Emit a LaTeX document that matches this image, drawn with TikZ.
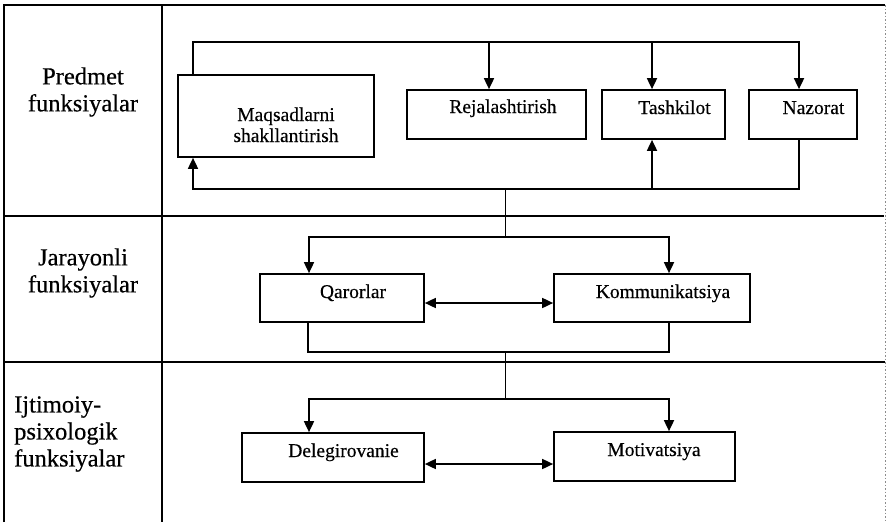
\documentclass[tikz,border=0pt]{standalone}
\usepackage{fontspec}
\setmainfont{Liberation Serif}
\newfontfamily\heavyserif[FakeBold=0.4]{Liberation Serif}
\usetikzlibrary{arrows.meta,calc}
\begin{document}
\begin{tikzpicture}[x=1pt,y=-1pt,
  frame/.style={line width=1.6pt},
  faint/.style={line width=0.6pt,draw=black!45,dash pattern=on 1.5pt off 2pt},
  box/.style={draw,line width=1.7pt,rectangle,inner sep=0pt},
  ln/.style={line width=1.7pt},
  thinln/.style={line width=1pt},
  arr/.style={line width=1.7pt,-{Triangle[length=11pt,width=10pt]}},
  darr/.style={line width=1.7pt,{Triangle[length=11pt,width=10pt]}-{Triangle[length=11pt,width=10pt]}},
  btxt/.style={anchor=base,inner sep=0pt,font=\heavyserif\fontsize{19.5}{21}\selectfont},
  ltxt/.style={inner sep=0pt,font=\heavyserif\fontsize{24.5}{27}\selectfont}]
\useasboundingbox (0,0) rectangle (888,522);
\fill[white] (0,0) rectangle (888,522);
% frame
\coordinate (fTL) at (4,5);
\coordinate (fTR) at (885,5);
\coordinate (fBL) at (4,522);
\coordinate (cT) at (162,5);
\coordinate (cB) at (162,522);
\coordinate (r1L) at (4,216);
\coordinate (r1R) at (884,216);
\coordinate (r2L) at (4,362);
\coordinate (r2R) at (885,362);
\draw[frame] (fBL) -- (fTL) -- (fTR);
\draw[frame] (cT) -- (cB);
\draw[frame] (r1L) -- (r1R);
\draw[frame] (r2L) -- (r2R);
\draw[faint] (fTR) -- (885,522);
% row labels
\node[ltxt,align=center] (lab1) at (83,92) {Predmet\\funksiyalar};
\node[ltxt,align=center] (lab2) at (83,273) {Jarayonli\\funksiyalar};
\node[ltxt,align=left,anchor=west] (lab3) at (14,434) {Ijtimoiy-\\psixologik\\funksiyalar};
% boxes row 1
\node[box,minimum width=196pt,minimum height=82pt] (maq) at (276,116) {};
\node[box,minimum width=179pt,minimum height=49pt] (rej) at (496.5,114.5) {};
\node[box,minimum width=123pt,minimum height=49pt] (tas) at (663.5,114.5) {};
\node[box,minimum width=108pt,minimum height=49pt] (naz) at (803,114.5) {};
\node[btxt] (maqt1) at (286,121) {Maqsadlarni};
\node[btxt] (maqt2) at (286,142) {shakllantirish};
\node[btxt] (rejt) at (503,113) {Rejalashtirish};
\node[btxt] (tast) at (674.5,114) {Tashkilot};
\node[btxt] (nazt) at (813.5,114) {Nazorat};
% boxes row 2
\node[box,minimum width=164pt,minimum height=48pt] (qar) at (342,298) {};
\node[box,minimum width=196pt,minimum height=48pt] (kom) at (652,298) {};
\node[btxt] (qart) at (353,298) {Qarorlar};
\node[btxt] (komt) at (663,298) {Kommunikatsiya};
% boxes row 3
\node[box,minimum width=182pt,minimum height=49pt] (del) at (333,457.5) {};
\node[box,minimum width=181pt,minimum height=49pt] (mot) at (644.5,456.5) {};
\node[btxt] (delt) at (343.5,457) {Delegirovanie};
\node[btxt] (mott) at (654,456) {Motivatsiya};
% row 1 connectors
\coordinate (t0) at (193,42);
\coordinate (t1) at (489,42);
\coordinate (t2) at (652,42);
\coordinate (t3) at (799,42);
\coordinate (b0) at (193,189);
\coordinate (b2) at (652,189);
\coordinate (b3) at (799,189);
\coordinate (bm) at (505,189);
\draw[arr] (t0 |- maq.north) -- (t0) -- (t3) -- (t3 |- naz.north);
\draw[arr] (t1) -- (t1 |- rej.north);
\draw[arr] (t2) -- (t2 |- tas.north);
\draw[arr] (b3 |- naz.south) -- (b3) -- (b0) -- (b0 |- maq.south);
\draw[arr] (b2) -- (b2 |- tas.south);
% row 2 connectors
\coordinate (q0) at (309,237);
\coordinate (q1) at (669,237);
\coordinate (qm) at (505,237);
\draw[thinln] (bm) -- (qm);
\draw[darr] (q0 |- qar.north) -- (q0) -- (q1) -- (q1 |- kom.north);
\draw[darr] ([yshift=-5pt]qar.east) -- ([yshift=-5pt]qar.east -| kom.west);
\coordinate (s0) at (308,352);
\coordinate (s1) at (669,352);
\coordinate (sm) at (505,352);
\draw[ln] (s0 |- qar.south) -- (s0) -- (s1) -- (s1 |- kom.south);
% row 3 connectors
\coordinate (d0) at (309,399);
\coordinate (d1) at (669,399);
\coordinate (dm) at (505,399);
\draw[thinln] (sm) -- (dm);
\draw[darr] (d0 |- del.north) -- (d0) -- (d1) -- (d1 |- mot.north);
\draw[darr] ([yshift=-6.5pt]del.east) -- ([yshift=-6.5pt]del.east -| mot.west);
\end{tikzpicture}
\end{document}
